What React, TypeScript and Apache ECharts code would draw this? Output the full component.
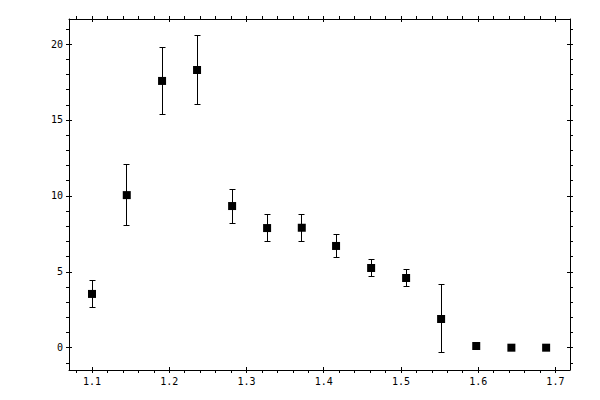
import { useEffect, useRef } from 'react';
import * as echarts from 'echarts';

// measured points with symmetric errors
const xValues = [1.1, 1.145, 1.1907, 1.236, 1.2814, 1.3267, 1.3716, 1.416, 1.4614, 1.5067, 1.552, 1.5975, 1.643, 1.688];
const yValues = [3.54, 10.05, 17.57, 18.29, 9.33, 7.88, 7.9, 6.7, 5.25, 4.59, 1.89, 0.11, 0, 0];
const yErrors = [0.9, 2.0, 2.2, 2.3, 1.12, 0.86, 0.88, 0.76, 0.59, 0.59, 2.24, 0, 0, 0];

const xMajorTicks = [1.1, 1.2, 1.3, 1.4, 1.5, 1.6, 1.7];
const xMinorTicks = [1.08, 1.1, 1.12, 1.14, 1.16, 1.18, 1.2, 1.22, 1.24, 1.26, 1.28, 1.3, 1.32, 1.34, 1.36, 1.38, 1.4, 1.42, 1.44, 1.46, 1.48, 1.5, 1.52, 1.54, 1.56, 1.58, 1.6, 1.62, 1.64, 1.66, 1.68, 1.7];
const yMajorTicks = [0, 5, 10, 15, 20];
const yMinorTicks = [-1, 0, 1, 2, 3, 4, 5, 6, 7, 8, 9, 10, 11, 12, 13, 14, 15, 16, 17, 18, 19, 20, 21];

const X_MIN = 1.0702;
const X_MAX = 1.7189;
const Y_MIN = -1.47;
const Y_MAX = 21.65;

const FONT = 'DejaVu Sans Mono';

function lineAxis(position: string, min: number, max: number, minors: number[]) {
  return {
    type: 'value',
    position,
    min,
    max,
    axisLine: { show: true, onZero: false, lineStyle: { color: '#000', width: 1 } },
    axisTick: { show: true, inside: false, length: 3, customValues: minors, lineStyle: { color: '#000', width: 1 } },
    axisLabel: { show: false },
    splitLine: { show: false },
  };
}

function majorAxis(position: string, min: number, max: number, majors: number[], labels: boolean, fmt: (v: number) => string) {
  return {
    type: 'value',
    position,
    min,
    max,
    offset: -3,
    axisLine: { show: false, onZero: false },
    axisTick: { show: true, inside: false, length: 6, customValues: majors, lineStyle: { color: '#000', width: 1 } },
    axisLabel: {
      show: labels,
      customValues: majors,
      formatter: fmt,
      color: '#000',
      fontFamily: FONT,
      fontSize: 10,
      margin: 9,
    },
    splitLine: { show: false },
  };
}

// snap to pixel centre so 1px strokes stay crisp
const px = (v: number) => Math.round(v - 0.5) + 0.5;

export default function App() {
  const chartRef = useRef<HTMLDivElement>(null);

  useEffect(() => {
    if (!chartRef.current) return;
    const chart = echarts.init(chartRef.current, null, { renderer: 'svg' });

    const points = xValues.map((x, i) => [x, yValues[i]]);
    const bars = xValues.map((x, i) => [x, yValues[i] - yErrors[i], yValues[i] + yErrors[i], yErrors[i]]);

    const option: any = {
      animation: false,
      backgroundColor: '#fff',
      grid: { left: 69, top: 19, width: 501, height: 351 },
      xAxis: [
        lineAxis('bottom', X_MIN, X_MAX, xMinorTicks),
        majorAxis('bottom', X_MIN, X_MAX, xMajorTicks, true, (v: number) => v.toFixed(1)),
        lineAxis('top', X_MIN, X_MAX, xMinorTicks),
        majorAxis('top', X_MIN, X_MAX, xMajorTicks, false, (v: number) => v.toFixed(1)),
      ],
      yAxis: [
        lineAxis('left', Y_MIN, Y_MAX, yMinorTicks),
        majorAxis('left', Y_MIN, Y_MAX, yMajorTicks, true, (v: number) => String(v)),
        lineAxis('right', Y_MIN, Y_MAX, yMinorTicks),
        majorAxis('right', Y_MIN, Y_MAX, yMajorTicks, false, (v: number) => String(v)),
      ],
      series: [
        {
          type: 'custom',
          xAxisIndex: 0,
          yAxisIndex: 0,
          data: bars,
          renderItem: (params: any, api: any) => {
            if (api.value(3) <= 0) return null;
            const lo = api.coord([api.value(0), api.value(1)]);
            const hi = api.coord([api.value(0), api.value(2)]);
            const x = px(lo[0]);
            const yLo = px(lo[1]);
            const yHi = px(hi[1]);
            const style = { stroke: '#000', lineWidth: 1 };
            const cap = 3;
            return {
              type: 'group',
              children: [
                { type: 'line', shape: { x1: x, y1: yLo, x2: x, y2: yHi }, style },
                { type: 'line', shape: { x1: x - cap, y1: yLo, x2: x + cap, y2: yLo }, style },
                { type: 'line', shape: { x1: x - cap, y1: yHi, x2: x + cap, y2: yHi }, style },
              ],
            };
          },
          z: 2,
        },
        {
          type: 'scatter',
          xAxisIndex: 0,
          yAxisIndex: 0,
          symbol: 'rect',
          symbolSize: 8,
          itemStyle: { color: '#000', opacity: 1 },
          data: points,
          z: 3,
        },
      ],
    };

    chart.setOption(option);
    return () => {
      chart.dispose();
    };
  }, []);

  return (
    <div
      ref={chartRef}
      style={{ position: 'fixed', left: 0, top: 0, width: '600px', height: '400px' }}
    />
  );
}
